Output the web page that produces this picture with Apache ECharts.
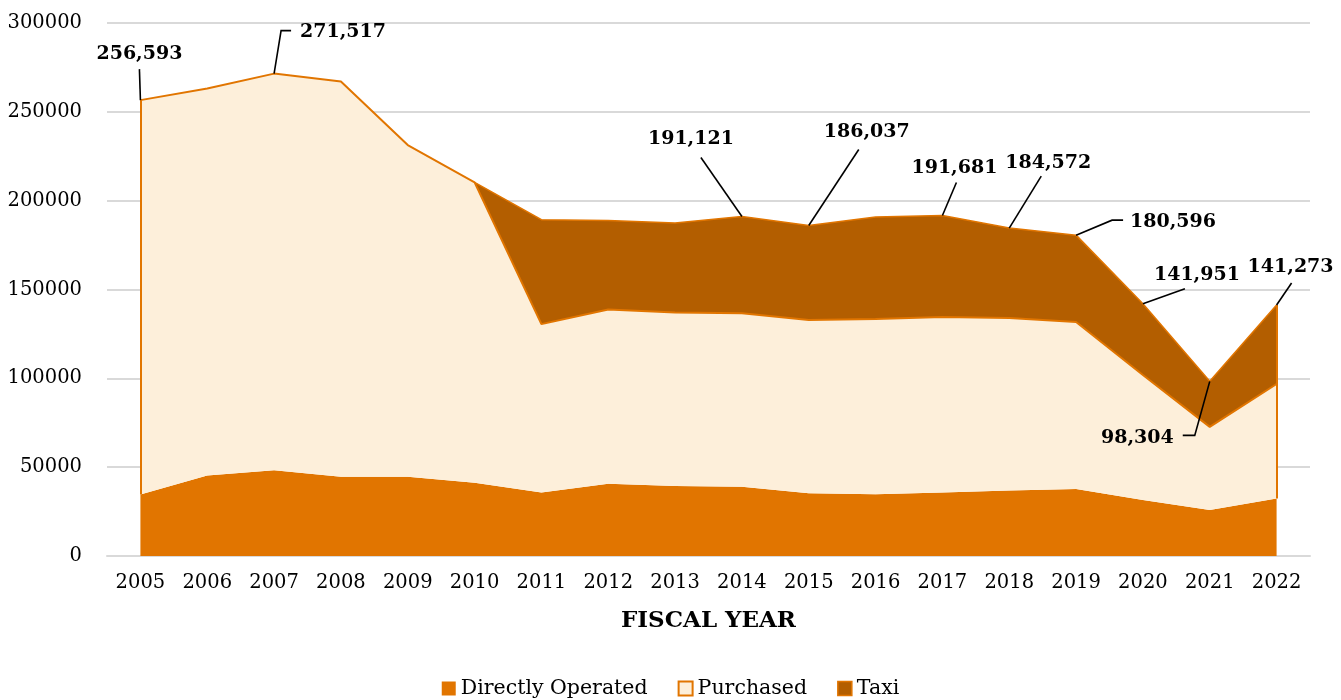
<!DOCTYPE html>
<html>
<head>
<meta charset="utf-8">
<title>Trips by Service Type</title>
<script src="https://cdn.jsdelivr.net/npm/echarts@6/dist/echarts.min.js"></script>
<style>
  html, body { margin: 0; padding: 0; background: #ffffff; }
  #chart { width: 1341px; height: 700px; }
</style>
</head>
<body>
<div id="chart"></div>
<script>
// Fiscal years on the x axis
var years = ['2005','2006','2007','2008','2009','2010','2011','2012','2013',
             '2014','2015','2016','2017','2018','2019','2020','2021','2022'];

// Trips per service type (stacked)
var directlyOperated = [34600, 45300, 48200, 44600, 44600, 41200, 35800, 40700, 39400,
                        39000, 35300, 34700, 35800, 36800, 37700, 31500, 25900, 32300];
var purchased = [221993, 217800, 223317, 222500, 186700, 169100, 94700, 98100, 97700,
                 97600, 97500, 98700, 98700, 97200, 94000, 70400, 46800, 64500];
var taxi = ['-', '-', '-', '-', '-', 0, 58800, 50100, 50300,
            54521, 53237, 57400, 57181, 50572, 48896, 40051, 25604, 44473];

// Years whose stacked total gets a callout
var calloutYears = ['2005','2007','2014','2015','2017','2018','2019','2020','2021','2022'];

// y axis ticks
var yMin = 0, yMax = 300000, yStep = 50000;

// Callout placement: text offset from the point and leader-line vertices (px)
var callouts = {
  '2005': { dx: -1,  dy: -46, align: 'center', path: [[0, 0], [-1, -31]] },
  '2007': { dx: 26,  dy: -42, align: 'left',   path: [[0, 0], [7, -43], [17, -43]] },
  '2014': { dx: -51, dy: -77, align: 'center', path: [[0, 0], [-41, -59]] },
  '2015': { dx: 58,  dy: -93, align: 'center', path: [[0, 0], [50, -76]] },
  '2017': { dx: 12,  dy: -47, align: 'center', path: [[0, 0], [14, -33]] },
  '2018': { dx: 39,  dy: -65, align: 'center', path: [[0, 0], [32, -52]] },
  '2019': { dx: 54,  dy: -13, align: 'left',   path: [[0, 0], [36, -15], [47, -15]] },
  '2020': { dx: 54,  dy: -29, align: 'center', path: [[0, 0], [42, -15]] },
  '2021': { dx: -36, dy: 57,  align: 'right',  path: [[0, 0], [-15, 54], [-27, 54]] },
  '2022': { dx: 14,  dy: -38, align: 'center', path: [[0, 0], [15, -22]] }
};

var ORANGE = '#E17500';
var CREAM = '#FDEFDA';
var BROWN = '#B35E00';
var SERIF = '"DejaVu Serif", "Liberation Serif", serif';

function num(v) { return v === '-' ? 0 : v; }
function stackTotal(i) { return num(directlyOperated[i]) + num(purchased[i]) + num(taxi[i]); }
function withCommas(v) { return String(Math.round(v)).replace(/\B(?=(\d{3})+(?!\d))/g, ','); }

var calloutData = calloutYears.map(function (y) {
  var i = years.indexOf(y);
  return [i, stackTotal(i)];
});

var first = 0, last = years.length - 1;
var edgeLines = [
  [{ coord: [first, directlyOperated[first]] }, { coord: [first, stackTotal(first)] }],
  [{ coord: [last, directlyOperated[last]] }, { coord: [last, stackTotal(last)] }]
];

var chart = echarts.init(document.getElementById('chart'), null, { renderer: 'canvas' });

chart.setOption({
  animation: false,
  backgroundColor: '#ffffff',
  textStyle: { fontFamily: SERIF },
  grid: { left: 107, right: 31, top: 23, bottom: 144, containLabel: false },
  legend: {
    bottom: -4,
    left: 'center',
    itemWidth: 14,
    itemHeight: 14,
    itemGap: 30,
    textStyle: { fontFamily: SERIF, fontSize: 20.5, color: '#000' },
    data: [
      { name: 'Directly Operated', icon: 'rect', itemStyle: { color: ORANGE, borderWidth: 0 } },
      { name: 'Purchased', icon: 'rect', itemStyle: { color: CREAM, borderColor: ORANGE, borderWidth: 2 } },
      { name: 'Taxi', icon: 'rect', itemStyle: { color: BROWN, borderColor: ORANGE, borderWidth: 1.5 } }
    ]
  },
  xAxis: {
    type: 'category',
    data: years,
    boundaryGap: true,
    name: 'FISCAL YEAR',
    nameLocation: 'middle',
    nameGap: 54,
    nameTextStyle: { fontFamily: SERIF, fontSize: 23, fontWeight: 'bold', color: '#000' },
    axisLine: { show: true, lineStyle: { color: '#d9d9d9', width: 2 } },
    axisTick: { show: false },
    axisLabel: { fontFamily: SERIF, fontSize: 19.5, color: '#000', margin: 17 }
  },
  yAxis: {
    type: 'value',
    min: yMin,
    max: yMax,
    interval: yStep,
    axisLine: { show: false },
    axisTick: { show: false },
    axisLabel: {
      fontFamily: SERIF, fontSize: 19.5, color: '#000', margin: 25,
      formatter: function (v) { return String(v); }
    },
    splitLine: { lineStyle: { color: '#d9d9d9', width: 2 } }
  },
  series: [
    {
      name: 'Directly Operated',
      type: 'line',
      stack: 'trips',
      data: directlyOperated,
      showSymbol: false,
      itemStyle: { color: ORANGE },
      lineStyle: { width: 0, color: ORANGE },
      areaStyle: { color: ORANGE, opacity: 1 },
      z: 2
    },
    {
      name: 'Purchased',
      type: 'line',
      stack: 'trips',
      data: purchased,
      showSymbol: false,
      itemStyle: { color: CREAM, borderColor: ORANGE },
      lineStyle: { width: 2, color: ORANGE },
      areaStyle: { color: CREAM, opacity: 1 },
      markLine: {
        silent: true,
        symbol: 'none',
        label: { show: false },
        lineStyle: { type: 'solid', color: ORANGE, width: 2 },
        data: edgeLines
      },
      z: 4
    },
    {
      name: 'Taxi',
      type: 'line',
      stack: 'trips',
      data: taxi,
      showSymbol: false,
      itemStyle: { color: BROWN, borderColor: ORANGE },
      lineStyle: { width: 1.5, color: ORANGE },
      areaStyle: { color: BROWN, opacity: 1 },
      z: 3
    },
    {
      name: 'Totals',
      type: 'custom',
      data: calloutData,
      encode: { x: 0, y: 1 },
      clip: false,
      silent: true,
      z: 10,
      renderItem: function (params, api) {
        var idx = api.value(0);
        var total = api.value(1);
        var p = api.coord([idx, total]);
        var c = callouts[years[idx]];
        var pts = c.path.map(function (d) { return [p[0] + d[0], p[1] + d[1]]; });
        return {
          type: 'group',
          children: [
            {
              type: 'polyline',
              shape: { points: pts },
              style: { stroke: '#000', lineWidth: 1.6, fill: null }
            },
            {
              type: 'text',
              x: p[0] + c.dx,
              y: p[1] + c.dy,
              style: {
                text: withCommas(total),
                font: 'bold 19px ' + SERIF,
                fill: '#000',
                align: c.align,
                verticalAlign: 'middle'
              }
            }
          ]
        };
      }
    }
  ]
});
</script>
</body>
</html>
